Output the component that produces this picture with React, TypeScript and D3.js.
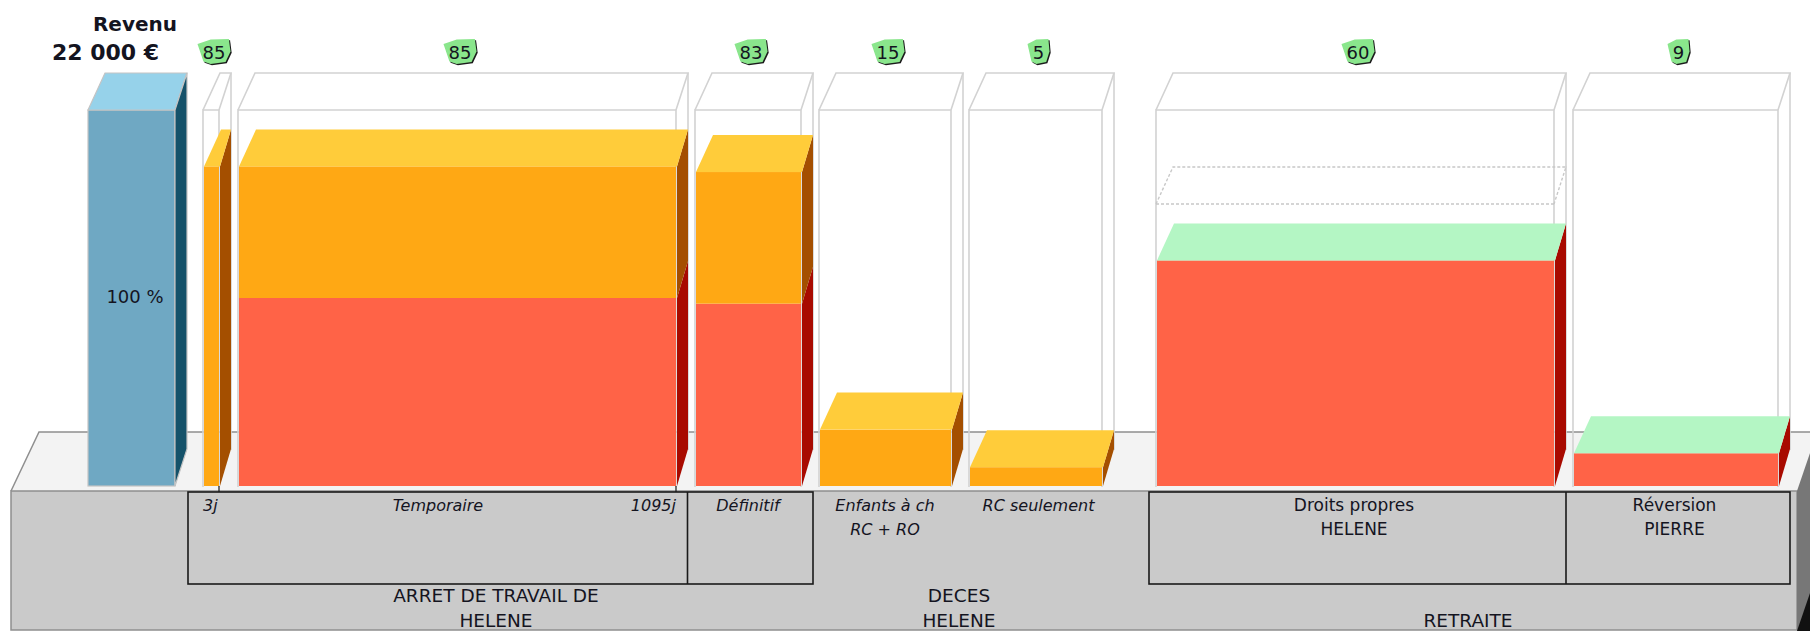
import { useEffect, useRef } from "react";
import * as d3 from "d3";

const revenueTitle = "Revenu";
const revenueAmount = "22 000 €";
const revenuePct = 100;

// one entry per column
const badges = [85, 85, 83, 15, 5, 60, 9];
const totals = [85, 85, 83.5, 15, 5, 60, 8.7];
const redParts = [0, 50, 48.5, 0, 0, 60, 8.7];
const capKinds = ["orange", "orange", "orange", "orange", "orange", "green", "green"];
const ghostTotals = [0, 0, 0, 0, 0, 75, 0];

const labelLines = [
  ["3j"],
  ["Temporaire"],
  ["Définitif"],
  ["Enfants à ch", "RC + RO"],
  ["RC seulement"],
  ["Droits propres", "HELENE"],
  ["Réversion", "PIERRE"],
];
const labelItalic = [true, true, true, true, true, false, false];
const endLabel = "1095j";

const groupLabels = [
  ["ARRET DE TRAVAIL DE", "HELENE"],
  ["DECES", "HELENE"],
  ["", "RETRAITE"],
];

// layout of the columns along the floor (px)
const startX = 88;
const widths = [87, 16, 438, 106, 132, 133, 398, 205];
const gaps = [28, 19, 19, 18, 18, 54, 19];

const colors = {
  orange: { front: "#ffa814", top: "#ffcc3a", side: "#a44f00" },
  red: { front: "#ff6347", side: "#a80a00" },
  green: { top: "#b4f6c4" },
  blue: { front: "#6fa8c3", top: "#96d2ea", side: "#15526a" },
};

export default function App() {
  const ref = useRef<SVGSVGElement>(null);

  useEffect(() => {
    if (!ref.current) return;
    const svg = d3.select(ref.current);
    svg.selectAll("*").remove();

    const width = 1810;
    const height = 631;
    const base = 486;
    const dxL = 17;
    const dxR = 12;
    const dy = 37;
    const font = "'DejaVu Sans', sans-serif";

    const y = d3.scaleLinear().domain([0, 100]).range([base, 110]);
    const poly = (pts: number[][]) => "M" + pts.map((p) => p.join(",")).join("L") + "Z";

    // column edges
    const edges: [number, number][] = [];
    let cur = startX;
    widths.forEach((w, i) => {
      edges.push([cur, cur + w]);
      cur += w + (gaps[i] ?? 0);
    });
    const rev = edges[0];
    const cols = edges.slice(1);

    // floor
    svg.append("path").attr("d", poly([[11, 491], [39, 432], [width + 5, 432], [width + 5, 491]])).attr("fill", "#f3f3f3");
    svg.append("path").attr("d", "M11,491L39,432L1815,432").attr("fill", "none").attr("stroke", "#8f8f8f").attr("stroke-width", 1.5);

    // plinth
    svg.append("rect").attr("x", 11).attr("y", 491).attr("width", 1786).attr("height", 139).attr("fill", "#cacaca").attr("stroke", "#8f8f8f").attr("stroke-width", 1.5);
    svg.append("path").attr("d", poly([[1797, 491], [1811, 450], [1811, height], [1797, height]])).attr("fill", "#777");
    svg.append("path").attr("d", poly([[1797, height], [1811, 590], [1811, height]])).attr("fill", "#111");

    // empty frames
    const frame = (x0: number, x1: number, top: number, bottom: number, stroke: string, w: number, dash?: string) => {
      const g = svg.append("g").attr("fill", "none").attr("stroke", stroke).attr("stroke-width", w).attr("stroke-dasharray", dash ?? null);
      g.append("path").attr("d", `M${x0},${bottom}L${x0},${top}L${x1},${top}L${x1},${bottom}`);
      g.append("path").attr("d", `M${x0},${top}L${x0 + dxL},${top - dy}L${x1 + dxR},${top - dy}L${x1},${top}`);
      g.append("path").attr("d", `M${x1 + dxR},${top - dy}L${x1 + dxR},${bottom - dy}`);
    };
    cols.forEach(([x0, x1]) => frame(x0, x1, y(100), base + 1, "#d2d2d2", 1.6));

    // bars
    const bar = (x0: number, x1: number, lo: number, hi: number, front: string, side: string) => {
      svg.append("rect").attr("x", x0).attr("y", y(hi)).attr("width", x1 - x0).attr("height", y(lo) - y(hi)).attr("fill", front);
      svg.append("path")
        .attr("d", poly([[x1 + 1, y(lo)], [x1 + 1, y(hi)], [x1 + dxR, y(hi) - dy], [x1 + dxR, y(lo) - dy]]))
        .attr("fill", side);
    };
    const cap = (x0: number, x1: number, v: number, fill: string) => {
      svg.append("path")
        .attr("d", poly([[x0, y(v)], [x0 + dxL, y(v) - dy], [x1 + dxR, y(v) - dy], [x1 + 1, y(v)]]))
        .attr("fill", fill);
    };

    cols.forEach(([x0, x1], i) => {
      const a = x0 + 1;
      const red = redParts[i];
      const total = totals[i];
      if (ghostTotals[i] > 0) {
        const v = y(ghostTotals[i]);
        frame(x0, x1, v, v, "#c8c8c8", 1.4, "3 2");
      }
      if (red > 0) bar(a, x1, 0, red, colors.red.front, colors.red.side);
      if (total > red) bar(a, x1, red, total, colors.orange.front, colors.orange.side);
      cap(a, x1, total, capKinds[i] === "green" ? colors.green.top : colors.orange.top);
    });

    // revenue bar
    const blue = svg.append("g");
    blue.append("rect").attr("x", rev[0]).attr("y", y(revenuePct)).attr("width", rev[1] - rev[0]).attr("height", base - y(revenuePct)).attr("fill", colors.blue.front);
    blue.append("path").attr("d", poly([[rev[0], y(100)], [rev[0] + dxL, y(100) - dy], [rev[1] + dxR, y(100) - dy], [rev[1], y(100)]])).attr("fill", colors.blue.top);
    blue.append("path").attr("d", poly([[rev[1], base], [rev[1], y(100)], [rev[1] + dxR, y(100) - dy], [rev[1] + dxR, base - dy]])).attr("fill", colors.blue.side);
    blue.selectAll("path,rect").attr("stroke", "#c4c4c4").attr("stroke-width", 1.2);

    const text = (s: string, x: number, yy: number, size: number, anchor = "middle", italic = false, bold = false) =>
      svg.append("text")
        .attr("x", x)
        .attr("y", yy)
        .attr("text-anchor", anchor)
        .style("font-family", font)
        .style("font-size", `${size}px`)
        .style("font-style", italic ? "italic" : "normal")
        .style("font-weight", bold ? "bold" : "normal")
        .style("fill", "#14141f")
        .text(s);

    text(revenueTitle, 135, 31, 20, "middle", false, true);
    text(revenueAmount, 105.5, 60, 22, "middle", false, true);
    text(`${revenuePct} %`, 135, 303, 18);

    // badges over each column
    const shape = [[0, 0.2], [0.4, 0.02], [0.95, 0], [1, 0.5], [0.85, 0.92], [0.4, 1], [0.18, 0.9]];
    cols.forEach(([x0, x1], i) => {
      const cx = (x0 + x1 + dxR) / 2 - 3;
      const w = String(badges[i]).length > 1 ? 33 : 22;
      const pts = shape.map(([a, b]) => [cx - w / 2 + a * w, 39 + b * 25]);
      svg.append("path").attr("d", poly(pts.map(([a, b]) => [a + 1.2, b + 1.2]))).attr("fill", "#1b1b1b");
      svg.append("path").attr("d", poly(pts)).attr("fill", "#8ae68c");
      text(String(badges[i]), cx, 59, 18);
    });

    // brackets
    const black = svg.append("g").attr("fill", "none").attr("stroke", "#1a1a1a").attr("stroke-width", 1.6);
    const divA = cols[1][1] + 12;
    const divB = cols[5][1] + 12;
    const boxA = [188, cols[2][1] + 12];
    const boxB = [cols[5][0] - 7, cols[6][1] + 12];
    black.append("rect").attr("x", boxA[0]).attr("y", 492).attr("width", boxA[1] - boxA[0]).attr("height", 92);
    black.append("rect").attr("x", boxB[0]).attr("y", 492).attr("width", boxB[1] - boxB[0]).attr("height", 92);
    black.append("path").attr("d", `M${divA - 0.5},492V584M${divB},492V584`);
    black.append("path").attr("d", `M${cols[0][1]},486V492M${cols[1][1]},486V492`).attr("stroke-width", 1.2);

    // labels under the columns
    cols.forEach(([x0, x1], i) => {
      labelLines[i].forEach((s, k) => {
        const yy = 511 + k * 24;
        const size = labelItalic[i] ? 16 : 17;
        if (i === 0) text(s, x0, yy, size, "start", true);
        else if (i === 1) text(s, (boxA[0] + divA) / 2, yy, size, "middle", true);
        else text(s, (x0 + x1 + dxR * (i === 4 ? 0.5 : 0)) / 2 + (i >= 5 ? -1 : 0), yy, size, "middle", labelItalic[i]);
      });
    });
    text(endLabel, cols[1][1], 511, 16, "end", true);

    const groupX = [496, 959, 1468];
    groupLabels.forEach((lines, i) => {
      lines.forEach((s, k) => {
        if (s) text(s, groupX[i], 602 + k * 25, 18.5);
      });
    });
  }, []);

  return <svg ref={ref} width={1810} height={631} style={{ position: "absolute", left: 0, top: 0, display: "block", background: "#fff" }} />;
}
